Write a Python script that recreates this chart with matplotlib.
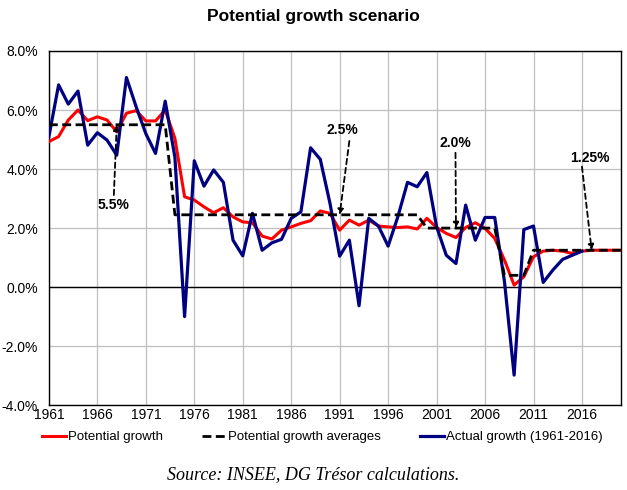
import matplotlib
matplotlib.use("Agg")
import matplotlib.pyplot as plt

years = list(range(1961, 2021))

potential = [4.93, 5.10, 5.66, 6.00, 5.64, 5.77, 5.66, 5.26, 5.89, 5.98,
             5.63, 5.63, 6.00, 5.04, 3.06, 2.95, 2.72, 2.52, 2.69, 2.38,
             2.21, 2.18, 1.73, 1.63, 1.93, 2.04, 2.16, 2.25, 2.58, 2.50,
             1.93, 2.27, 2.10, 2.27, 2.07, 2.04, 2.02, 2.04, 1.97, 2.33,
             2.02, 1.82, 1.68, 2.02, 2.18, 1.99, 1.65, 0.92, 0.07, 0.35,
             1.03, 1.22, 1.25, 1.22, 1.14, 1.22, 1.25, 1.25, 1.25, 1.25]

averages = [5.5, 5.5, 5.5, 5.5, 5.5, 5.5, 5.5, 5.5, 5.5, 5.5,
            5.5, 5.5, 5.5, 2.45, 2.45, 2.45, 2.45, 2.45, 2.45, 2.45,
            2.45, 2.45, 2.45, 2.45, 2.45, 2.45, 2.45, 2.45, 2.45, 2.45,
            2.45, 2.45, 2.45, 2.45, 2.45, 2.45, 2.45, 2.45, 2.45, 2.0,
            2.0, 2.0, 2.0, 2.0, 2.0, 2.0, 2.0, 0.4, 0.4, 0.4,
            1.25, 1.25, 1.25, 1.25, 1.25, 1.25, 1.25, 1.25, 1.25, 1.25]

actual_years = list(range(1961, 2017))
actual = [5.10, 6.85, 6.20, 6.64, 4.81, 5.23, 4.98, 4.47, 7.10, 6.11,
          5.20, 4.53, 6.30, 4.40, -1.00, 4.28, 3.42, 3.97, 3.55, 1.59,
          1.06, 2.50, 1.25, 1.50, 1.62, 2.33, 2.55, 4.72, 4.33, 2.84,
          1.05, 1.59, -0.63, 2.33, 2.07, 1.39, 2.38, 3.55, 3.40, 3.88,
          2.05, 1.08, 0.80, 2.78, 1.59, 2.36, 2.36, 0.20, -2.98, 1.95,
          2.07, 0.16, 0.58, 0.94, 1.08, 1.22]

ann_labels = ["5.5%", "2.5%", "2.0%", "1.25%"]
ann_target_years = [1968, 1991, 2003, 2017]
ann_target_vals = [5.5, 2.45, 2.0, 1.25]
ann_tail_years = [1967.7, 1992.0, 2002.95, 2016.0]
ann_tail_vals = [3.12, 4.95, 4.55, 4.08]
ann_label_years = [1967.7, 1991.3, 2002.9, 2016.8]
ann_label_vals = [2.78, 5.32, 4.88, 4.37]

xticks = list(range(1961, 2017, 5))
yticks = [-4, -2, 0, 2, 4, 6, 8]

plt.rcParams['font.family'] = ['Liberation Sans', 'DejaVu Sans']

fig = plt.figure(figsize=(6.27, 4.90), dpi=100)
ax = fig.add_axes([0.078, 0.173, 0.912, 0.723])

red = '#ff0000'
blue = '#000080'

l1, = ax.plot(years, potential, color=red, lw=2.2, zorder=3, label='Potential growth')
l3, = ax.plot(actual_years, actual, color=blue, lw=2.3, zorder=4, label='Actual growth (1961-2016)')
l2, = ax.plot(years, averages, color='black', lw=2.0, ls=(0, (3.2, 1.6)), zorder=5,
              label='Potential growth averages')

ax.axhline(0, color='black', lw=1.0, zorder=2)

for lab, tx, tv, sx, sy, lx, ly in zip(ann_labels, ann_target_years, ann_target_vals,
                                       ann_tail_years, ann_tail_vals,
                                       ann_label_years, ann_label_vals):
    ax.annotate('', xy=(tx, tv), xytext=(sx, sy),
                arrowprops=dict(arrowstyle='-|>', color='black', lw=1.3,
                                ls=(0, (3, 2)), mutation_scale=8, shrinkA=0, shrinkB=0),
                zorder=6)
    ax.text(lx, ly, lab, ha='center', va='center', fontsize=10,
            fontweight='bold', zorder=6)

ax.set_xlim(1961, 2020)
ax.set_ylim(-4, 8)
ax.set_xticks(xticks)
ax.set_xticklabels([str(x) for x in xticks])
ax.set_yticks(yticks)
ax.set_yticklabels([f"{v:.1f}%" for v in yticks])
ax.tick_params(axis='both', length=0, labelsize=10, colors='black')
ax.tick_params(axis='x', pad=2)
ax.tick_params(axis='y', pad=8)
ax.grid(True, color='#bfbfbf', lw=0.9, zorder=0)
for s in ax.spines.values():
    s.set_color('black')
    s.set_linewidth(1.0)

fig.text(0.5, 0.967, 'Potential growth scenario', ha='center', va='center',
         fontsize=12.5, fontweight='bold')

leg = fig.legend(handles=[l1, l2, l3], loc='center', bbox_to_anchor=(0.514, 0.108),
                 ncol=3, frameon=False, fontsize=9.5, handlelength=1.8,
                 handletextpad=0.15, columnspacing=3.0, borderpad=0.2)

fig.text(0.5, 0.032, 'Source: INSEE, DG Trésor calculations.', ha='center', va='center',
         fontsize=13, style='italic', family=['Liberation Serif', 'DejaVu Serif'])

fig.savefig('out.png', dpi=100)
